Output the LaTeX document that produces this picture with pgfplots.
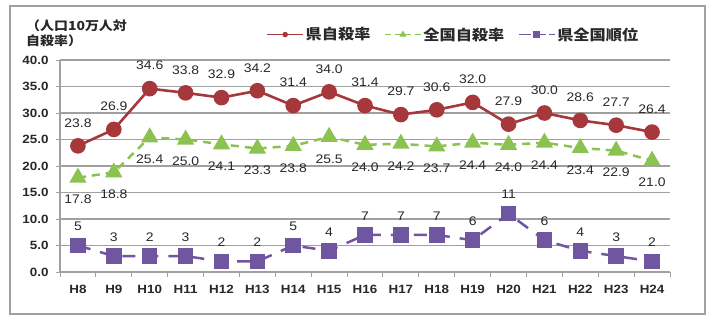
\documentclass[border=0pt]{standalone}
\usepackage{pgfplots}
\pgfplotsset{compat=1.18}
\usepackage{fontspec}
\setmainfont[FakeStretch=1.12]{Liberation Sans}
\newfontfamily\cjk[FakeStretch=1.12]{Noto Sans CJK JP}
\definecolor{cred}{RGB}{166,56,60}
\definecolor{cgreen}{RGB}{140,194,80}
\definecolor{cpurple}{RGB}{112,86,160}
\definecolor{cgrid}{RGB}{160,160,160}
\definecolor{ctext}{RGB}{40,40,40}
\begin{document}
\begin{tikzpicture}
\useasboundingbox (-60bp,-44bp) rectangle (651bp,272bp);
\draw[cgrid, line width=1.2bp] (-50bp,-42bp) rectangle (645bp,266bp);
\node[anchor=north west, align=left, inner sep=0pt, font=\cjk\bfseries\fontsize{12.5}{14.5}\selectfont, text=ctext]
  at (-34bp,252bp) {（人口10万人対\\自殺率）};
\begin{axis}[
  at={(0,0)}, anchor=south west,
  scale only axis, width=610bp, height=212bp,
  xmin=-0.5, xmax=16.5, ymin=0, ymax=40,
  axis x line*=bottom, axis y line*=left,
  axis line style={cgrid, line width=1.2bp, -},
  xtick={0,...,16},
  xticklabels={H8,H9,H10,H11,H12,H13,H14,H15,H16,H17,H18,H19,H20,H21,H22,H23,H24},
  major x tick style={draw=none},
  minor xtick={-0.5,0.5,...,16.5},
  minor x tick style={cgrid, line width=1bp},
  tick align=outside,
  minor tick length=5bp,
  ytick={0,5,...,40},
  major tick length=4bp,
  y tick style={cgrid, line width=1bp},
  ymajorgrids,
  grid style={cgrid, line width=1.2bp},
  /pgf/number format/assume math mode=true,
  yticklabel style={/pgf/number format/fixed, /pgf/number format/fixed zerofill, /pgf/number format/precision=1},
  ticklabel style={font=\bfseries\fontsize{12}{12}\selectfont, text=ctext},
  xticklabel style={yshift=-6bp},
  yticklabel style={xshift=-4bp},
  legend columns=3,
  legend style={at={(0.645,1.12)}, anchor=center, draw=none, fill=none,
    font=\cjk\bfseries\fontsize{14.5}{14.5}\selectfont, text=ctext,
    /tikz/every even column/.append style={column sep=12bp}},
  legend image code/.code={\draw[mark repeat=2,mark phase=2,#1] plot coordinates {(0bp,0bp) (18bp,0bp) (36bp,0bp)};},
  nodes near coords,
  point meta=explicit symbolic,
  every node near coord/.append style={font=\fontsize{12.5}{12.5}\selectfont, text=ctext, inner sep=0pt, anchor=center},
]
\addplot[cred, line width=2.6bp, mark=*, mark size=6.5bp, mark options={solid, fill=cred},
  nodes near coords style={yshift=23bp},
  legend image post style={line width=1bp, mark size=2.2bp}]
 coordinates {
 (0,23.8)[23.8] (1,26.9)[26.9] (2,34.6)[34.6] (3,33.8)[33.8] (4,32.9)[32.9] (5,34.2)[34.2]
 (6,31.4)[31.4] (7,34.0)[34.0] (8,31.4)[31.4] (9,29.7)[29.7] (10,30.6)[30.6] (11,32.0)[32.0]
 (12,27.9)[27.9] (13,30.0)[30.0] (14,28.6)[28.6] (15,27.7)[27.7] (16,26.4)[26.4]};
\addlegendentry{県自殺率}
\addplot[cgreen, line width=2.5bp, dash pattern=on 8bp off 6bp, mark=triangle*, mark size=7.5bp, mark options={solid, fill=cgreen},
  nodes near coords style={yshift=-22bp},
  legend image post style={line width=1bp, mark size=3bp, dash pattern=on 6bp off 4bp}]
 coordinates {
 (0,17.8)[17.8] (1,18.8)[18.8] (2,25.4)[25.4] (3,25.0)[25.0] (4,24.1)[24.1] (5,23.3)[23.3]
 (6,23.8)[23.8] (7,25.5)[25.5] (8,24.0)[24.0] (9,24.2)[24.2] (10,23.7)[23.7] (11,24.4)[24.4]
 (12,24.0)[24.0] (13,24.4)[24.4] (14,23.4)[23.4] (15,22.9)[22.9] (16,21.0)[21.0]};
\addlegendentry{全国自殺率}
\addplot[cpurple, line width=2.5bp, dash pattern=on 13bp off 10bp, mark=square*, mark size=6.5bp, mark options={solid, fill=cpurple},
  nodes near coords style={yshift=19bp},
  legend image post style={line width=1bp, mark size=3bp, dash pattern=on 12bp off 3bp}]
 coordinates {
 (0,5)[5] (1,3)[3] (2,3)[2] (3,3)[3] (4,2)[2] (5,2)[2]
 (6,5)[5] (7,4)[4] (8,7)[7] (9,7)[7] (10,7)[7] (11,6)[6]
 (12,11)[11] (13,6)[6] (14,4)[4] (15,3)[3] (16,2)[2]};
\addlegendentry{県全国順位}
\end{axis}
\end{tikzpicture}
\end{document}
